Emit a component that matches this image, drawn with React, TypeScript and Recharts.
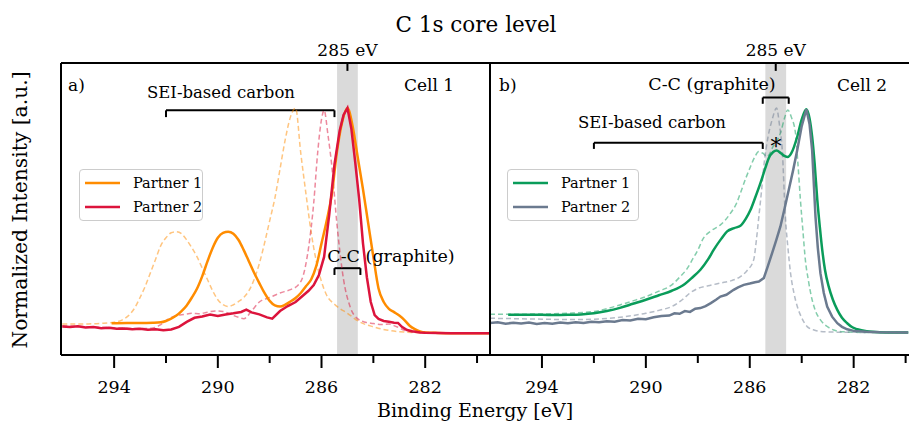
import {
  LineChart, Line, XAxis, YAxis, ReferenceArea, ReferenceLine, Legend,
} from "recharts";

const FONT = '"DejaVu Serif", "Liberation Serif", serif';
const ORANGE = "#ff8c00";
const RED = "#dc143c";
const GREEN = "#0a9c5a";
const SLATE = "#6b7a8f";
const BAND_FILL = "#dadada";

const X_TICKS = [294, 292, 290, 288, 286, 284, 282, 280];
const X_MAJOR = [294, 290, 286, 282];
const Y_TICKS = [0, 0.25, 0.5, 0.75, 1];
const Y_DOMAIN: [number, number] = [-0.095, 1.2];
const TOP_MARK = 285;
const BAND = [284.6, 285.4];

// Cell 1, Partner 1 (solid) and its un-shifted reference (dashed)
const C1_P1_E = [294.1, 293.5, 293.0, 292.5, 292.2, 292.0, 291.8, 291.6, 291.4, 291.2, 291.0, 290.8, 290.6, 290.4, 290.2, 290.0, 289.8, 289.6, 289.4, 289.2, 289.0, 288.8, 288.6, 288.4, 288.2, 288.0, 287.8, 287.6, 287.4, 287.2, 287.0, 286.8, 286.6, 286.4, 286.2, 286.0, 285.8, 285.6, 285.4, 285.2, 285.0, 284.8, 284.6, 284.4, 284.2, 284.0, 283.8, 283.6, 283.4, 283.2, 283.0, 282.8, 282.6, 282.4, 282.2, 282.0, 281.5, 281.0, 280.0, 279.5];
const C1_P1_I = [0.046, 0.047, 0.047, 0.048, 0.05, 0.056, 0.066, 0.08, 0.1, 0.125, 0.16, 0.2, 0.255, 0.32, 0.38, 0.425, 0.447, 0.452, 0.443, 0.415, 0.37, 0.32, 0.27, 0.224, 0.18, 0.145, 0.125, 0.12, 0.128, 0.142, 0.158, 0.18, 0.21, 0.24, 0.3, 0.4, 0.5, 0.62, 0.81, 0.94, 1.0, 0.92, 0.78, 0.64, 0.49, 0.34, 0.2, 0.14, 0.11, 0.095, 0.08, 0.06, 0.035, 0.02, 0.01, 0.005, 0.003, 0.002, 0.002, 0.002];
const C1_P1_REF_E = [296.0, 295.0, 294.5, 294.0, 293.7, 293.4, 293.2, 293.0, 292.8, 292.6, 292.4, 292.2, 292.0, 291.8, 291.6, 291.4, 291.2, 291.0, 290.8, 290.6, 290.4, 290.2, 290.0, 289.8, 289.6, 289.4, 289.2, 289.0, 288.8, 288.6, 288.4, 288.2, 288.0, 287.8, 287.6, 287.4, 287.2, 287.0, 286.8, 286.6, 286.4, 286.2, 286.0, 285.8, 285.5, 285.0, 284.5, 284.0, 283.5, 283.0, 282.0, 280.0, 279.5];
const C1_P1_REF_I = [0.043, 0.043, 0.045, 0.05, 0.06, 0.085, 0.115, 0.16, 0.21, 0.27, 0.33, 0.39, 0.425, 0.447, 0.452, 0.443, 0.415, 0.38, 0.34, 0.29, 0.24, 0.19, 0.15, 0.128, 0.12, 0.128, 0.142, 0.16, 0.19, 0.24, 0.31, 0.4, 0.5, 0.6, 0.73, 0.86, 0.96, 1.0, 0.8, 0.62, 0.45, 0.32, 0.23, 0.17, 0.13, 0.09, 0.05, 0.03, 0.016, 0.008, 0.004, 0.003, 0.003];

// Cell 1, Partner 2
const C1_P2_E = [296.0, 295.7, 295.4, 295.1, 294.8, 294.5, 294.2, 293.9, 293.6, 293.3, 293.0, 292.7, 292.4, 292.1, 291.8, 291.5, 291.2, 290.9, 290.6, 290.3, 290.0, 289.7, 289.4, 289.1, 288.9, 288.7, 288.4, 288.1, 287.9, 287.6, 287.3, 287.0, 286.7, 286.5, 286.3, 286.1, 285.9, 285.7, 285.5, 285.3, 285.15, 285.0, 284.85, 284.7, 284.55, 284.4, 284.25, 284.1, 283.95, 283.8, 283.6, 283.4, 283.2, 283.05, 282.9, 282.7, 282.5, 282.2, 282.0, 281.5, 281.0, 280.0, 279.5];
const C1_P2_I = [0.031, 0.029, 0.032, 0.027, 0.029, 0.024, 0.026, 0.021, 0.023, 0.019, 0.021, 0.017, 0.019, 0.015, 0.018, 0.03, 0.052, 0.07, 0.076, 0.084, 0.078, 0.085, 0.09, 0.096, 0.106, 0.094, 0.085, 0.072, 0.066, 0.1, 0.122, 0.14, 0.17, 0.19, 0.215, 0.26, 0.34, 0.53, 0.75, 0.9, 0.97, 1.0, 0.91, 0.76, 0.6, 0.4, 0.25, 0.14, 0.082, 0.065, 0.056, 0.052, 0.048, 0.047, 0.03, 0.016, 0.01, 0.005, 0.004, 0.003, 0.002, 0.002, 0.002];
const C1_P2_REF_E = [296.0, 295.0, 294.0, 293.0, 292.5, 292.2, 291.9, 291.6, 291.3, 291.0, 290.7, 290.4, 290.1, 289.8, 289.5, 289.2, 289.0, 288.7, 288.4, 288.0, 287.6, 287.2, 286.9, 286.7, 286.5, 286.3, 286.15, 286.0, 285.9, 285.75, 285.6, 285.4, 285.15, 284.9, 284.6, 284.3, 284.0, 283.7, 283.4, 283.1, 282.8, 282.4, 281.5, 280.0, 279.5];
const C1_P2_REF_I = [0.035, 0.03, 0.026, 0.022, 0.025, 0.04, 0.065, 0.08, 0.085, 0.09, 0.088, 0.095, 0.1, 0.098, 0.085, 0.072, 0.066, 0.1, 0.14, 0.16, 0.18, 0.195, 0.215, 0.26, 0.38, 0.58, 0.8, 0.95, 0.99, 0.88, 0.74, 0.48, 0.24, 0.12, 0.065, 0.05, 0.045, 0.04, 0.042, 0.03, 0.015, 0.006, 0.004, 0.003, 0.003];

// Cell 2, Partner 1
const C2_P1_E = [295.3, 294.5, 294.0, 293.5, 293.0, 292.5, 292.0, 291.5, 291.0, 290.5, 290.0, 289.5, 289.0, 288.5, 288.2, 287.9, 287.6, 287.39, 287.1, 286.87, 286.6, 286.36, 286.15, 285.97, 285.8, 285.59, 285.4, 285.27, 285.1, 284.97, 284.8, 284.65, 284.54, 284.4, 284.17, 284.0, 283.82, 283.7, 283.6, 283.5, 283.4, 283.3, 283.21, 283.1, 282.96, 282.8, 282.63, 282.45, 282.25, 282.05, 281.86, 281.5, 281.0, 280.5, 279.9];
const C2_P1_I = [0.083, 0.083, 0.083, 0.082, 0.083, 0.085, 0.09, 0.1, 0.114, 0.132, 0.15, 0.17, 0.19, 0.22, 0.25, 0.283, 0.33, 0.371, 0.42, 0.453, 0.468, 0.478, 0.51, 0.549, 0.6, 0.667, 0.735, 0.778, 0.805, 0.812, 0.8, 0.787, 0.783, 0.8, 0.874, 0.95, 0.995, 0.955, 0.874, 0.75, 0.593, 0.47, 0.371, 0.28, 0.208, 0.15, 0.105, 0.07, 0.046, 0.028, 0.019, 0.01, 0.006, 0.005, 0.005];
const C2_P1_REF_E = [296.0, 295.0, 294.0, 293.0, 292.0, 291.5, 291.0, 290.5, 290.0, 289.5, 289.0, 288.7, 288.4, 288.2, 288.0, 287.8, 287.5, 287.13, 286.74, 286.5, 286.36, 286.15, 285.97, 285.8, 285.65, 285.5, 285.33, 285.1, 284.82, 284.65, 284.54, 284.4, 284.24, 284.15, 284.05, 283.95, 283.86, 283.75, 283.6, 283.45, 283.28, 283.0, 282.77, 282.4, 281.5, 279.9];
const C2_P1_REF_I = [0.086, 0.086, 0.087, 0.09, 0.098, 0.11, 0.127, 0.145, 0.164, 0.188, 0.216, 0.25, 0.29, 0.33, 0.37, 0.42, 0.455, 0.482, 0.534, 0.58, 0.623, 0.69, 0.741, 0.785, 0.807, 0.8, 0.785, 0.83, 0.889, 0.96, 0.992, 0.96, 0.889, 0.76, 0.593, 0.45, 0.327, 0.24, 0.15, 0.095, 0.061, 0.03, 0.016, 0.008, 0.005, 0.005];

// Cell 2, Partner 2
const C2_P2_E = [296.0, 295.7, 295.4, 295.1, 294.8, 294.5, 294.2, 293.9, 293.6, 293.3, 293.0, 292.7, 292.4, 292.1, 291.8, 291.5, 291.2, 290.9, 290.6, 290.3, 290.0, 289.7, 289.4, 289.1, 288.9, 288.7, 288.5, 288.3, 288.1, 287.9, 287.7, 287.5, 287.3, 287.13, 286.9, 286.62, 286.45, 286.23, 286.0, 285.8, 285.65, 285.46, 285.3, 285.14, 284.98, 284.82, 284.66, 284.5, 284.33, 284.17, 284.0, 283.82, 283.7, 283.6, 283.47, 283.38, 283.28, 283.15, 283.02, 282.83, 282.63, 282.45, 282.25, 282.0, 281.5, 281.0, 280.0, 279.9];
const C2_P2_I = [0.047, 0.05, 0.044, 0.048, 0.045, 0.049, 0.043, 0.047, 0.044, 0.049, 0.046, 0.05, 0.047, 0.052, 0.05, 0.055, 0.053, 0.06, 0.058, 0.066, 0.064, 0.072, 0.078, 0.08, 0.09, 0.088, 0.1, 0.096, 0.11, 0.113, 0.122, 0.135, 0.15, 0.164, 0.172, 0.194, 0.205, 0.216, 0.222, 0.228, 0.231, 0.246, 0.3, 0.357, 0.415, 0.475, 0.555, 0.637, 0.725, 0.815, 0.92, 0.995, 0.93, 0.815, 0.519, 0.38, 0.268, 0.18, 0.12, 0.075, 0.046, 0.03, 0.019, 0.012, 0.008, 0.006, 0.005, 0.005];
const C2_P2_REF_E = [296.0, 295.0, 294.0, 293.0, 292.0, 291.0, 290.5, 290.0, 289.5, 289.0, 288.6, 288.3, 288.0, 287.6, 287.13, 286.7, 286.36, 286.1, 285.85, 285.75, 285.65, 285.55, 285.46, 285.3, 285.14, 284.97, 284.85, 284.75, 284.63, 284.53, 284.43, 284.3, 284.17, 284.0, 283.79, 283.5, 283.28, 282.5, 281.0, 279.9];
const C2_P2_REF_I = [0.068, 0.066, 0.064, 0.062, 0.064, 0.072, 0.08, 0.09, 0.103, 0.12, 0.15, 0.18, 0.2, 0.212, 0.224, 0.235, 0.253, 0.28, 0.327, 0.41, 0.519, 0.63, 0.741, 0.87, 0.948, 1.0, 0.92, 0.815, 0.519, 0.38, 0.268, 0.18, 0.12, 0.07, 0.031, 0.015, 0.009, 0.006, 0.005, 0.005];

// annotation brackets (data coordinates)
const BRACKETS_1 = [
  { from: 292, to: 285.5, y: 0.99, drop: 0.03 },
  { from: 285.5, to: 284.5, y: 0.29, drop: 0.03 },
];
const BRACKETS_2 = [
  { from: 285.5, to: 284.5, y: 1.047, drop: 0.028 },
  { from: 292, to: 285.5, y: 0.846, drop: 0.027 },
];

const pts = (e: number[], v: number[]) => e.map((x, i) => ({ e: x, v: v[i] }));

const BottomTick = (p: any) => {
  const v = p.payload.value;
  const major = X_MAJOR.includes(v);
  return (
    <g>
      <line x1={p.x} x2={p.x} y1={p.y} y2={p.y + (major ? 13 : 8)} stroke="#000" strokeWidth={2} />
      {major && (
        <text x={p.x} y={p.y + 32} textAnchor="middle" dominantBaseline="central"
          fontSize={17.5} fontFamily={FONT} fill="#000">{v}</text>
      )}
    </g>
  );
};

// label for the 285 eV marker, drawn above the top spine
const TopLabel = (p: any) => {
  const vb = p.viewBox ?? {};
  return (
    <text x={vb.x} y={(vb.y ?? 0) - 13} textAnchor="middle" dominantBaseline="central"
      fontSize={17} fontFamily={FONT} fill="#000">{`${TOP_MARK} eV`}</text>
  );
};

const legendBox = (width: number) => ({ payload }: any) => (
  <div style={{
    width, boxSizing: "border-box", border: "1px solid #cccccc", borderRadius: 4,
    background: "rgba(255,255,255,0.85)", padding: "1px 0 1px 5px", fontFamily: FONT, fontSize: 14.5,
  }}>
    {(payload ?? []).filter((p: any) => p.type !== "none").map((p: any) => (
      <div key={p.value} style={{ display: "flex", alignItems: "center", height: 24, whiteSpace: "nowrap" }}>
        <svg width={35} height={6} style={{ flexShrink: 0 }}><line x1={0} x2={35} y1={3} y2={3} stroke={p.color} strokeWidth={2.5} /></svg>
        <span style={{ marginLeft: 13, lineHeight: 1 }}>{p.value}</span>
      </div>
    ))}
  </div>
);

type Series = { data: { e: number; v: number }[]; color: string; name?: string; dashed?: boolean; noisy?: boolean };

function Panel({ left, width, yAxisW, domain, series, brackets, legendLeft, legendWidth }: {
  left: number; width: number; yAxisW: number; domain: [number, number];
  series: Series[]; brackets: typeof BRACKETS_1; legendLeft: number; legendWidth: number;
}) {
  const ax = { stroke: "#000", strokeWidth: 2 };
  return (
    <div style={{ position: "absolute", left, top: 0 }}>
      <LineChart width={width} height={422} margin={{ top: 33, right: 0, bottom: 37, left: left === 0 ? 61 - yAxisW : 0 }}>
        <XAxis type="number" dataKey="e" domain={domain} reversed allowDataOverflow ticks={X_TICKS}
          interval={0} height={30} axisLine={ax} tickLine={false} tickSize={0} tickMargin={0} tick={<BottomTick />} />
        <XAxis xAxisId="top" orientation="top" type="number" domain={domain} reversed allowDataOverflow
          height={30} axisLine={ax} tickLine={false} tick={false} />
        <YAxis type="number" domain={Y_DOMAIN} allowDataOverflow ticks={Y_TICKS} interval={0}
          width={yAxisW} axisLine={ax} tickLine={ax} tickSize={13} tick={false} />
        <ReferenceArea x1={BAND[0]} x2={BAND[1]} fill={BAND_FILL} fillOpacity={1} stroke="none" />
        <ReferenceLine segment={[{ x: TOP_MARK, y: Y_DOMAIN[1] }, { x: TOP_MARK, y: Y_DOMAIN[1] - 0.035 }]}
          stroke="#000" strokeWidth={2} ifOverflow="visible" label={<TopLabel />} />
        {brackets.map((b, i) => (
          <ReferenceLine key={`h${i}`} segment={[{ x: b.from, y: b.y }, { x: b.to, y: b.y }]} stroke="#000" strokeWidth={2} />
        ))}
        {brackets.map((b, i) => (
          <ReferenceLine key={`a${i}`} segment={[{ x: b.from, y: b.y }, { x: b.from, y: b.y - b.drop }]} stroke="#000" strokeWidth={2} />
        ))}
        {brackets.map((b, i) => (
          <ReferenceLine key={`b${i}`} segment={[{ x: b.to, y: b.y }, { x: b.to, y: b.y - b.drop }]} stroke="#000" strokeWidth={2} />
        ))}
        {series.map((s, i) => (
          <Line key={i} data={s.data} dataKey="v" name={s.name ?? `ref${i}`}
            type={s.noisy ? "linear" : "monotone"} dot={false} activeDot={false}
            stroke={s.color} strokeWidth={s.dashed ? 1.5 : 2.5} strokeOpacity={s.dashed ? 0.5 : 1}
            strokeDasharray={s.dashed ? "5 3" : undefined} legendType={s.dashed ? "none" : "line"}
            isAnimationActive={false} />
        ))}
        <Legend layout="horizontal" verticalAlign="middle" align="center" content={legendBox(legendWidth)}
          wrapperStyle={{ position: "absolute", left: legendLeft, top: 169, width: legendWidth, height: "auto" }} />
      </LineChart>
    </div>
  );
}

const Txt = ({ x, y, size = 17, anchor = "middle", children }: any) => (
  <div style={{
    position: "absolute", left: x, top: y, whiteSpace: "nowrap", lineHeight: 1,
    transform: anchor === "middle" ? "translate(-50%, -50%)" : "translate(0, -50%)",
    fontFamily: FONT, fontSize: size, color: "#000",
  }}>{children}</div>
);

export default function App() {
  const cell1: Series[] = [
    { data: pts(C1_P1_REF_E, C1_P1_REF_I), color: ORANGE, dashed: true },
    { data: pts(C1_P2_REF_E, C1_P2_REF_I), color: RED, dashed: true },
    { data: pts(C1_P1_E, C1_P1_I), color: ORANGE, name: "Partner 1" },
    { data: pts(C1_P2_E, C1_P2_I), color: RED, name: "Partner 2", noisy: true },
  ];
  const cell2: Series[] = [
    { data: pts(C2_P1_REF_E, C2_P1_REF_I), color: GREEN, dashed: true },
    { data: pts(C2_P2_REF_E, C2_P2_REF_I), color: SLATE, dashed: true },
    { data: pts(C2_P1_E, C2_P1_I), color: GREEN, name: "Partner 1" },
    { data: pts(C2_P2_E, C2_P2_I), color: SLATE, name: "Partner 2", noisy: true },
  ];
  return (
    <div style={{ position: "absolute", left: 0, top: 0, width: 909, height: 422, overflow: "hidden", background: "#fff" }}>
      <Panel left={0} width={490} yAxisW={20} domain={[279.5, 296.05]} series={cell1}
        brackets={BRACKETS_1} legendLeft={79} legendWidth={124} />
      <Panel left={470} width={439} yAxisW={20} domain={[279.87, 296]} series={cell2}
        brackets={BRACKETS_2} legendLeft={37} legendWidth={132} />

      <Txt x={476} y={25} size={21.5}>C 1s core level</Txt>
      <Txt x={68} y={85} anchor="start">a)</Txt>
      <Txt x={429} y={85}>Cell 1</Txt>
      <Txt x={499} y={85} anchor="start">b)</Txt>
      <Txt x={862} y={85}>Cell 2</Txt>
      <Txt x={221} y={93} size={16.5}>SEI-based carbon</Txt>
      <Txt x={391} y={257} size={17.5}>C-C (graphite)</Txt>
      <Txt x={712} y={85} size={17.5}>C-C (graphite)</Txt>
      <Txt x={652} y={123} size={16.5}>SEI-based carbon</Txt>
      <Txt x={776} y={147} size={22}>*</Txt>
      <Txt x={475} y={410} size={19}>Binding Energy [eV]</Txt>
      <div style={{
        position: "absolute", left: 20, top: 210, transform: "translate(-50%, -50%) rotate(-90deg)",
        whiteSpace: "nowrap", lineHeight: 1, fontFamily: FONT, fontSize: 20.3, color: "#000",
      }}>Normalized Intensity [a.u.]</div>
    </div>
  );
}
